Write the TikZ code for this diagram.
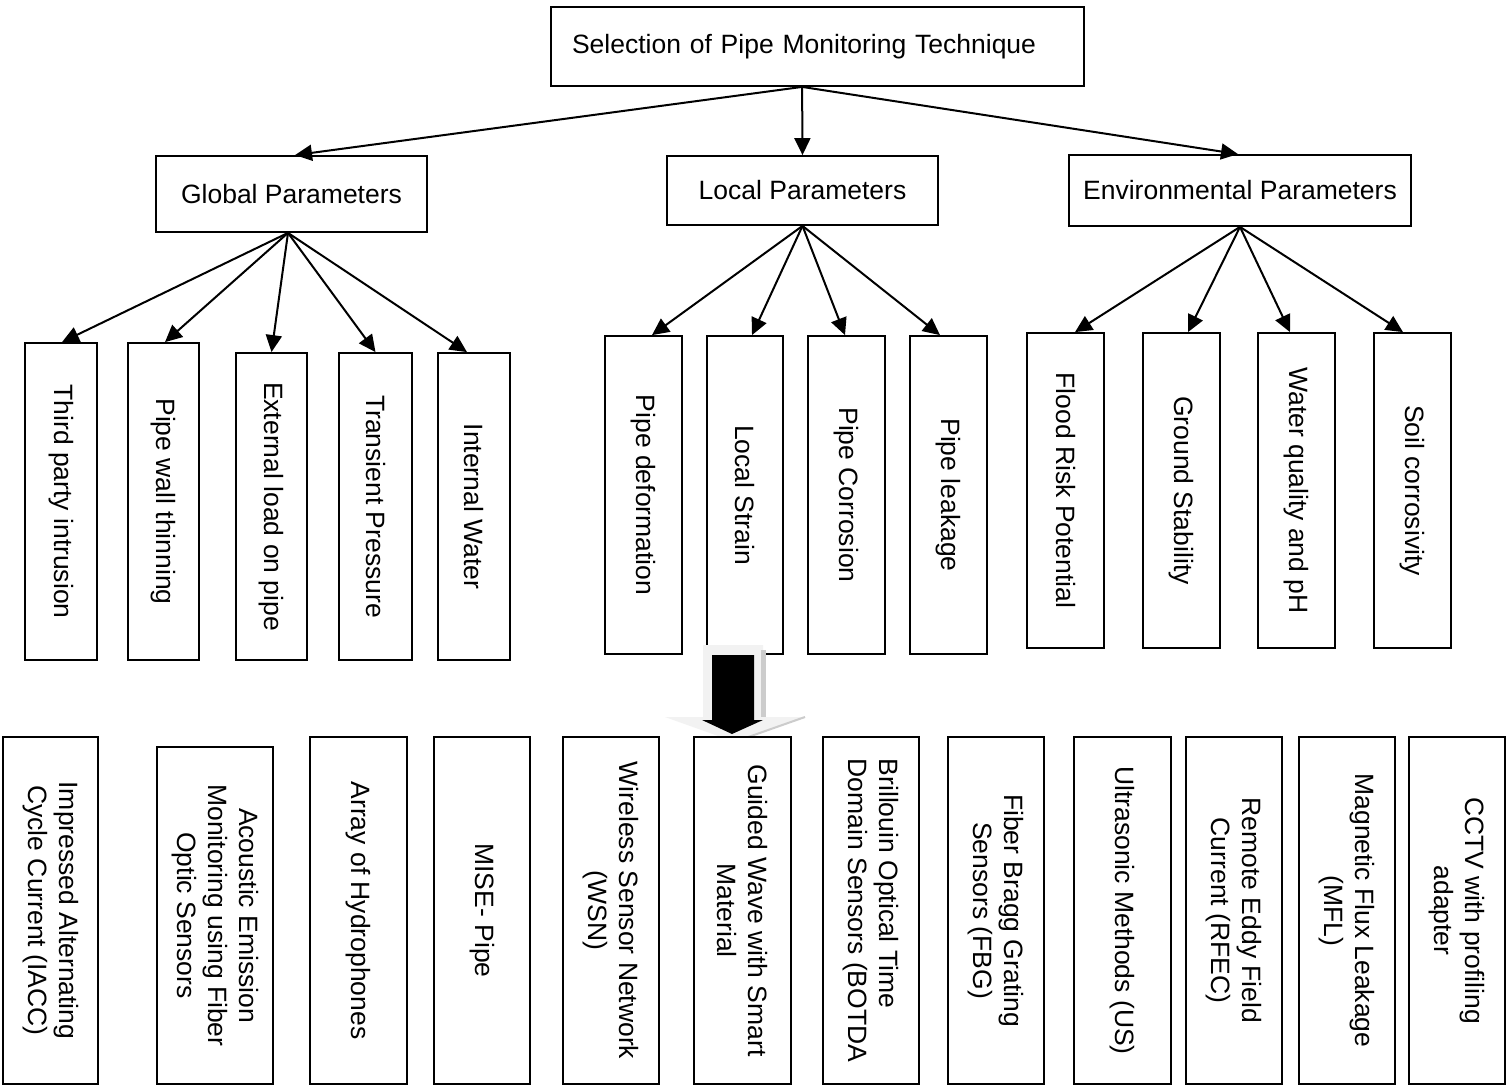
\documentclass[tikz,border=0pt]{standalone}
\usepackage{fontspec}
\setmainfont{Liberation Sans}
\usetikzlibrary{arrows.meta,calc}
\begin{document}
\begin{tikzpicture}[x=1pt,y=-1pt,
  font=\fontsize{26.5}{31}\selectfont,
  box/.style={draw, line width=1.8pt, fill=white, inner sep=0pt, align=center},
  vbox/.style={box, rotate=-90},
  arr/.style={line width=2pt, -{Triangle[length=17pt,width=16pt]}},
  bigarrowlight/.style={fill=gray!10},
  bigarrowshade/.style={fill=gray!40},
]
\useasboundingbox[fill=white] (0,0) rectangle (1508,1085);

% top level
\node[box, minimum width=533pt, minimum height=79pt, text width=491pt, align=left, inner xsep=21pt] (top) at (817.5,46.5) {Selection of Pipe Monitoring Technique};
\node[box, minimum width=271pt, minimum height=76pt] (gp) at (291.5,194) {Global Parameters};
\node[box, minimum width=271pt, minimum height=69pt] (lp) at (802.5,190.5) {Local Parameters};
\node[box, minimum width=342pt, minimum height=71pt] (ep) at (1240,190.5) {Environmental Parameters};

\coordinate (tout) at ($(top.south west)+(252,0)$);
\draw[arr] (tout) -- ($(gp.north)+(3.5,0)$);
\draw[arr] (tout) -- (lp.north);
\draw[arr] (tout) -- ($(ep.north)+(-2,0)$);

% global children
\node[vbox, minimum width=317pt, minimum height=72pt] (g1) at (61,501.5) {Third party intrusion};
\node[vbox, minimum width=317pt, minimum height=71pt] (g2) at (163.5,501.5) {Pipe wall thinning};
\node[vbox, minimum width=307pt, minimum height=71pt] (g3) at (271.5,506.5) {External load on pipe};
\node[vbox, minimum width=307pt, minimum height=73pt] (g4) at (375.5,506.5) {Transient Pressure};
\node[vbox, minimum width=307pt, minimum height=72pt] (g5) at (474,506.5) {Internal Water};

% local children
\node[vbox, minimum width=318pt, minimum height=77pt] (l1) at (643.5,495) {Pipe deformation};
\node[vbox, minimum width=318pt, minimum height=76pt] (l2) at (745,495) {Local Strain};
\node[vbox, minimum width=318pt, minimum height=77pt] (l3) at (846.5,495) {Pipe Corrosion};
\node[vbox, minimum width=318pt, minimum height=77pt] (l4) at (948.5,495) {Pipe leakage};

% environmental children
\node[vbox, minimum width=315pt, minimum height=77pt] (e1) at (1065.5,490.5) {Flood Risk Potential};
\node[vbox, minimum width=315pt, minimum height=77pt] (e2) at (1181.5,490.5) {Ground Stability};
\node[vbox, minimum width=315pt, minimum height=77pt] (e3) at (1296.5,490.5) {Water quality and pH};
\node[vbox, minimum width=315pt, minimum height=77pt] (e4) at (1412.5,490.5) {Soil corrosivity};

\coordinate (gout) at ($(gp.south)+(-3.5,0)$);
\draw[arr] (gout) -- ($(g1.west)+(1,0)$);
\draw[arr] (gout) -- ($(g2.west)+(1.5,0)$);
\draw[arr] (gout) -- (g3.west);
\draw[arr] (gout) -- (g4.west);
\draw[arr] (gout) -- ($(g5.west)+(-7,0)$);

\draw[arr] (lp.south) -- ($(l1.west)+(8.5,0)$);
\draw[arr] (lp.south) -- ($(l2.west)+(7,0)$);
\draw[arr] (lp.south) -- ($(l3.west)+(-1.5,0)$);
\draw[arr] (lp.south) -- ($(l4.west)+(-8.5,0)$);

\draw[arr] (ep.south) -- ($(e1.west)+(9.5,0)$);
\draw[arr] (ep.south) -- ($(e2.west)+(6.5,0)$);
\draw[arr] (ep.south) -- ($(e3.west)+(-6.5,0)$);
\draw[arr] (ep.south) -- ($(e4.west)+(-9.5,0)$);

% big block arrow
\path[bigarrowlight] (703,645) -- (763,645) -- (763,717) -- (805,717) -- (735,742) -- (665,717) -- (703,717) -- cycle;
\path[bigarrowshade] (761,650) rectangle (766,717);
\draw[gray!40, line width=2pt] (805,717) -- (737,741);
\fill[black] (712,655) -- (754,655) -- (754,720) -- (763,720) -- (732,734) -- (702,720) -- (712,720) -- cycle;

% techniques
\node[vbox, minimum width=347pt, minimum height=95pt] (b1) at (50.5,910.5) {Impressed Alternating\\Cycle Current (IACC)};
\node[vbox, minimum width=337pt, minimum height=116pt] (b2) at (215,915.5) {Acoustic Emission\\Monitoring using Fiber\\Optic Sensors};
\node[vbox, minimum width=347pt, minimum height=97pt] (b3) at (358.5,910.5) {Array of Hydrophones};
\node[vbox, minimum width=347pt, minimum height=96pt] (b4) at (482,910.5) {MISE- Pipe};
\node[vbox, minimum width=347pt, minimum height=96pt] (b5) at (611,910.5) {Wireless Sensor Network\\(WSN)};
\node[vbox, minimum width=347pt, minimum height=97pt] (b6) at (742.5,910.5) {Guided Wave with Smart\\Material};
\node[vbox, minimum width=347pt, minimum height=96pt, align=left] (b7) at (871,910.5) {Brillouin Optical Time\\Domain Sensors (BOTDA};
\node[vbox, minimum width=347pt, minimum height=96pt] (b8) at (996,910.5) {Fiber Bragg Grating\\Sensors (FBG)};
\node[vbox, minimum width=347pt, minimum height=97pt] (b9) at (1122.5,910.5) {Ultrasonic Methods (US)};
\node[vbox, minimum width=347pt, minimum height=96pt] (b10) at (1234,910.5) {Remote Eddy Field\\Current (RFEC)};
\node[vbox, minimum width=347pt, minimum height=96pt] (b11) at (1347,910.5) {Magnetic Flux Leakage\\(MFL)};
\node[vbox, minimum width=347pt, minimum height=96pt] (b12) at (1457,910.5) {CCTV with profiling\\adapter};
\end{tikzpicture}
\end{document}
